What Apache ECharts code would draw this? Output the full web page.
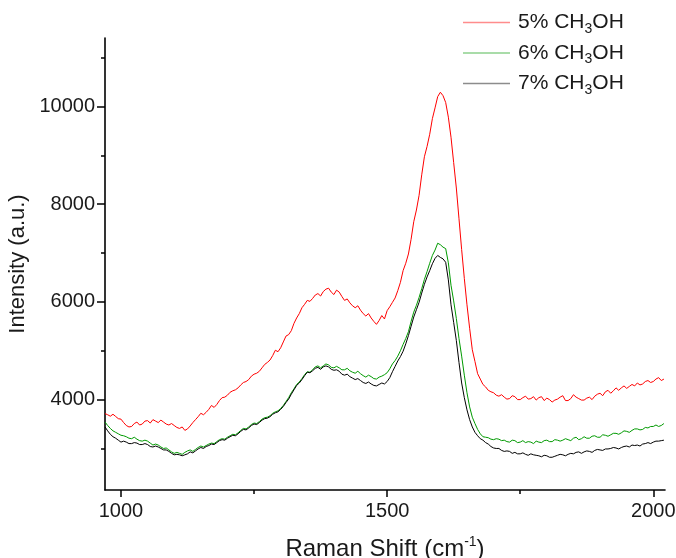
<!DOCTYPE html>
<html>
<head>
<meta charset="utf-8">
<script src="https://cdn.jsdelivr.net/npm/echarts@6/dist/echarts.min.js"></script>
<style>
  html, body { margin: 0; padding: 0; background: #fff; }
  #chart { width: 676px; height: 558px; }
</style>
</head>
<body>
<div id="chart"></div>
<script>
// Raman shift sampling grid (cm^-1), 970 .. 2020 every 5
const shift = [];
for (let s = 970; s <= 2020; s += 5) shift.push(s);

// Intensity (a.u.) for each methanol concentration, one row per 50 cm^-1
const methanol5 = [
  3714, 3690, 3660, 3700, 3655, 3610, 3600, 3530, 3470, 3440,
  3450, 3510, 3540, 3480, 3500, 3560, 3570, 3520, 3590, 3560,
  3530, 3580, 3540, 3500, 3480, 3510, 3470, 3430, 3410, 3440,
  3370, 3400, 3460, 3530, 3590, 3650, 3720, 3690, 3740, 3800,
  3880, 3840, 3900, 3980, 4040, 4050, 4090, 4150, 4180, 4200,
  4240, 4300, 4350, 4370, 4410, 4480, 4520, 4540, 4580, 4650,
  4720, 4760, 4810, 4900, 5010, 4980, 5060, 5180, 5300, 5330,
  5410, 5560, 5670, 5760, 5880, 5950, 6030, 6010, 6070, 6140,
  6170, 6120, 6210, 6260, 6280, 6200, 6150, 6240, 6200, 6110,
  6030, 6060, 5980, 5920, 5880, 5920, 5830, 5760, 5710, 5760,
  5670, 5600, 5540, 5620, 5720, 5650, 5820, 5900, 5990, 6080,
  6230, 6400, 6640, 6790, 6980, 7280, 7640, 7880, 8180, 8600,
  8970, 9180, 9430, 9750, 9970, 10200, 10290, 10220, 10080, 9780,
  9370, 8850, 8330, 7700, 7070, 6480, 5940, 5460, 5020, 4780,
  4530, 4420, 4310, 4260, 4190, 4160, 4140, 4090, 4070, 4100,
  4050, 4010, 4020, 4080, 4060, 4000, 4000, 4040, 4070, 4010,
  4020, 4060, 3990, 4040, 4060, 3980, 4030, 4000, 3950, 3990,
  4010, 4050, 4080, 3980, 3980, 4020, 4100, 4050, 4020, 3990,
  3990, 4030, 4050, 4000, 4070, 4110, 4130, 4080, 4160, 4190,
  4130, 4180, 4240, 4190, 4240, 4280, 4230, 4270, 4310, 4280,
  4340, 4300, 4320, 4370, 4390, 4350, 4370, 4420, 4450, 4390,
  4420
];
const methanol6 = [
  3540, 3470, 3410, 3360, 3330, 3300, 3270, 3260, 3240, 3210,
  3200, 3230, 3190, 3160, 3150, 3170, 3150, 3110, 3070, 3090,
  3070, 3030, 3000, 3010, 2970, 2930, 2900, 2920, 2900, 2880,
  2920, 2950, 2970, 2940, 2980, 3020, 3050, 3030, 3060, 3090,
  3110, 3100, 3140, 3180, 3200, 3190, 3230, 3260, 3290, 3280,
  3320, 3370, 3410, 3400, 3440, 3490, 3520, 3510, 3550, 3600,
  3630, 3640, 3670, 3720, 3750, 3770, 3820, 3880, 3960, 4040,
  4140, 4220, 4310, 4360, 4430, 4510, 4570, 4560, 4610, 4670,
  4690, 4650, 4690, 4730, 4710, 4660, 4650, 4680, 4650, 4610,
  4610, 4640, 4590, 4560, 4540, 4580, 4530, 4490, 4460, 4500,
  4470, 4430, 4420, 4460, 4480, 4510, 4550, 4630, 4730, 4800,
  4890, 5000, 5130, 5250, 5390, 5600, 5790, 5930, 6090, 6270,
  6460, 6620, 6790, 6950, 7060, 7200, 7170, 7120, 7090, 6800,
  6340, 6020, 5660, 5250, 4890, 4500, 4140, 3850, 3640, 3510,
  3390, 3300, 3240, 3230, 3220, 3190, 3180, 3200, 3190, 3160,
  3170, 3140, 3130, 3170, 3160, 3120, 3130, 3160, 3120, 3140,
  3130, 3100, 3150, 3130, 3120, 3160, 3170, 3140, 3140, 3180,
  3170, 3150, 3170, 3200, 3180, 3160, 3210, 3230, 3180, 3200,
  3240, 3210, 3210, 3250, 3260, 3230, 3230, 3280, 3270, 3250,
  3280, 3310, 3310, 3290, 3320, 3360, 3350, 3330, 3370, 3400,
  3400, 3380, 3390, 3430, 3420, 3450, 3450, 3480, 3450, 3470,
  3510
];
const methanol7 = [
  3440, 3360, 3290, 3240, 3210, 3170, 3130, 3150, 3130, 3100,
  3100, 3120, 3110, 3080, 3080, 3100, 3080, 3040, 3030, 3050,
  3030, 3000, 2970, 2970, 2940, 2900, 2870, 2880, 2870, 2850,
  2870, 2890, 2930, 2910, 2950, 2990, 3020, 3000, 3040, 3060,
  3090, 3080, 3120, 3160, 3180, 3170, 3210, 3240, 3270, 3260,
  3300, 3350, 3390, 3380, 3420, 3470, 3500, 3490, 3530, 3580,
  3610, 3620, 3650, 3700, 3730, 3750, 3800, 3860, 3940, 4010,
  4110, 4200, 4290, 4340, 4410, 4490, 4560, 4550, 4590, 4640,
  4660, 4620, 4670, 4690, 4670, 4620, 4600, 4610, 4580, 4520,
  4500, 4520, 4470, 4440, 4410, 4430, 4390, 4350, 4330, 4360,
  4320, 4290, 4280, 4310, 4340, 4320, 4370, 4450, 4570, 4680,
  4790, 4880, 4990, 5140, 5310, 5500, 5690, 5840, 5990, 6180,
  6360, 6510, 6640, 6780, 6890, 6950, 6910, 6880, 6810, 6450,
  5940, 5580, 5210, 4760, 4340, 4040, 3790, 3590, 3440, 3330,
  3260, 3200, 3170, 3120, 3090, 3040, 3010, 3000, 3000, 2960,
  2940, 2950, 2940, 2900, 2920, 2890, 2890, 2910, 2880, 2860,
  2890, 2870, 2860, 2850, 2830, 2860, 2850, 2820, 2820, 2840,
  2860, 2880, 2870, 2850, 2880, 2900, 2890, 2920, 2930, 2900,
  2930, 2950, 2940, 2920, 2960, 2980, 2970, 2960, 2990, 2990,
  3000, 3020, 3010, 2990, 3020, 3040, 3050, 3030, 3070, 3060,
  3070, 3050, 3090, 3100, 3120, 3100, 3130, 3150, 3150, 3160,
  3170
];

const seriesNames = ['5% CH3OH', '6% CH3OH', '7% CH3OH'];
const seriesValues = [methanol5, methanol6, methanol7];
const seriesColors = ['#ff0000', '#009a00', '#000000'];

// Axis ticks
const xMajorTicks = [1000, 1500, 2000];
const xMinorTicks = [1250, 1750];
const yMajorTicks = [4000, 6000, 8000, 10000];
const yMinorTicks = [3000, 5000, 7000, 9000, 11000];

const X_MIN = 970, X_MAX = 2022;
const Y_MIN = 2150, Y_MAX = 11400;

const FONT = '"Liberation Sans", Arial, sans-serif';
const INK = '#1a1a1a';

const chart = echarts.init(document.getElementById('chart'), null, { renderer: 'canvas' });

function pairs(vals) {
  return shift.map((s, i) => [s, vals[i]]);
}

const plain = v => String(v);

const hiddenAxisParts = {
  axisLine: { show: false },
  axisLabel: { show: false },
  splitLine: { show: false }
};

const option = {
  backgroundColor: '#ffffff',
  animation: false,
  grid: {
    left: 105, right: 11, top: 38, bottom: 68,
    containLabel: false,
    outerBoundsMode: 'none'
  },
  legend: {
    orient: 'vertical',
    left: 463,
    top: 12,
    padding: 0,
    itemWidth: 47,
    itemHeight: 26,
    itemGap: 6.5,
    icon: 'path://M0,0 L48,0 L48,1.6 L0,1.6 Z',
    data: seriesNames.map((n, i) => ({
      name: n,
      itemStyle: { color: seriesColors[i], opacity: 0.45 }
    })),
    formatter: function (name) {
      const pct = name.split(' ')[0];
      return '{t|' + pct + ' CH}{s|3}{t|OH}';
    },
    textStyle: {
      color: INK,
      fontFamily: FONT,
      fontSize: 21,
      padding: [0, 0, 0, 3],
      rich: {
        t: { fontFamily: FONT, fontSize: 21, color: INK, lineHeight: 27, verticalAlign: 'middle' },
        s: { fontFamily: FONT, fontSize: 14, color: INK, lineHeight: 14, verticalAlign: 'bottom' }
      }
    }
  },
  xAxis: [
    {
      type: 'value',
      min: X_MIN, max: X_MAX,
      name: 'Raman Shift (cm{sup|-1})',
      nameLocation: 'middle',
      nameGap: 45,
      nameTextStyle: {
        fontFamily: FONT, fontSize: 24, color: INK, lineHeight: 28,
        rich: { sup: { fontFamily: FONT, fontSize: 14, color: INK, lineHeight: 14, verticalAlign: 'top' } }
      },
      axisLine: { show: true, onZero: false, lineStyle: { color: '#000', width: 1.6 } },
      axisTick: { show: true, customValues: xMajorTicks, length: 7, lineStyle: { color: '#000', width: 1.5 } },
      axisLabel: { customValues: xMajorTicks, formatter: plain, margin: 11, fontFamily: FONT, fontSize: 20, color: INK, showMinLabel: true, showMaxLabel: true },
      splitLine: { show: false }
    },
    Object.assign({
      type: 'value',
      min: X_MIN, max: X_MAX,
      position: 'bottom',
      axisTick: { show: true, customValues: xMinorTicks, length: 4, lineStyle: { color: '#000', width: 1.5 } }
    }, hiddenAxisParts)
  ],
  yAxis: [
    {
      type: 'value',
      min: Y_MIN, max: Y_MAX,
      name: 'Intensity (a.u.)',
      nameLocation: 'middle',
      nameGap: 64,
      nameTextStyle: { fontFamily: FONT, fontSize: 22, color: INK },
      axisLine: { show: true, onZero: false, lineStyle: { color: '#000', width: 1.6 } },
      axisTick: { show: true, customValues: yMajorTicks, length: 8, lineStyle: { color: '#000', width: 1.5 } },
      axisLabel: { customValues: yMajorTicks, formatter: plain, margin: 10, fontFamily: FONT, fontSize: 20, color: INK },
      splitLine: { show: false }
    },
    Object.assign({
      type: 'value',
      min: Y_MIN, max: Y_MAX,
      position: 'left',
      axisTick: { show: true, customValues: yMinorTicks, length: 4, lineStyle: { color: '#000', width: 1.5 } }
    }, hiddenAxisParts)
  ],
  series: seriesNames.map((n, i) => ({
    name: n,
    type: 'line',
    xAxisIndex: 0,
    yAxisIndex: 0,
    data: pairs(seriesValues[i]),
    showSymbol: false,
    symbol: 'none',
    smooth: false,
    lineStyle: { color: seriesColors[i], width: 1 },
    itemStyle: { color: seriesColors[i] },
    emphasis: { disabled: true }
  }))
};

chart.setOption(option);
</script>
</body>
</html>
